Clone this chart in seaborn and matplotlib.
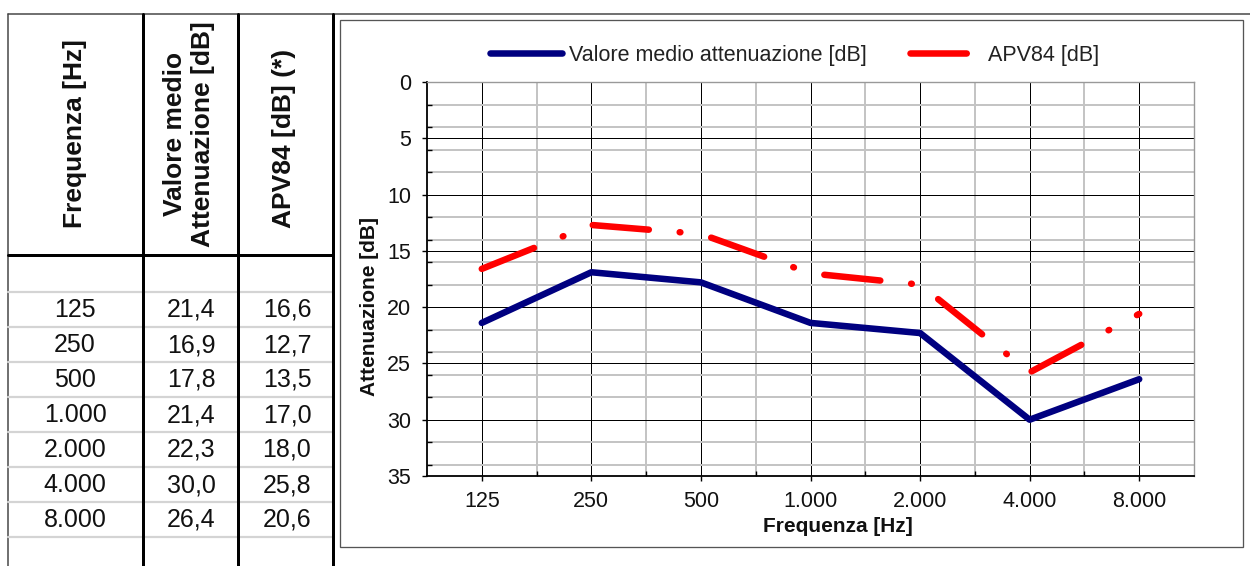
import numpy as np
import matplotlib
matplotlib.use("Agg")
import matplotlib.pyplot as plt
from matplotlib.patches import Rectangle
from matplotlib.ticker import MultipleLocator, FixedLocator
import seaborn as sns

freq_labels = ["125", "250", "500", "1.000", "2.000", "4.000", "8.000"]
valore_medio = [21.4, 16.9, 17.8, 21.4, 22.3, 30.0, 26.4]
apv84 = [16.6, 12.7, 13.5, 17.0, 18.0, 25.8, 20.6]
valore_txt = ["21,4", "16,9", "17,8", "21,4", "22,3", "30,0", "26,4"]
apv84_txt = ["16,6", "12,7", "13,5", "17,0", "18,0", "25,8", "20,6"]

sns.set_theme(style="white")
plt.rcParams["font.family"] = ["Liberation Sans", "DejaVu Sans"]
plt.rcParams["lines.scale_dashes"] = False

W, H = 1250, 566
fig = plt.figure(figsize=(W / 100, H / 100), dpi=100)

# Background axes in pixel coordinates for the table and the chart frame
bg = fig.add_axes([0, 0, 1, 1])
bg.set_xlim(0, W)
bg.set_ylim(H, 0)
bg.axis("off")

px = 0.72  # points per pixel at dpi 100

# table grid
bg.plot([8, W], [14, 14], color="#444444", lw=1.5 * px)
bg.plot([8, 8], [14, H], color="#444444", lw=1.5 * px)
for y in 292 + 35 * np.arange(8):
    bg.plot([8, 333], [y, y], color="#d4d4d4", lw=2.2 * px)
bg.plot([8, 333], [255, 255], color="black", lw=3 * px)
for x in [143, 238, 333]:
    bg.plot([x, x], [14, H], color="black", lw=3 * px)

# table header
bg.text(75, 134, "Frequenza [Hz]", rotation=90, ha="center", va="center",
        fontsize=19, fontweight="bold", color="#111111")
bg.text(189, 134, "Valore medio\nAttenuazione [dB]", rotation=90, ha="center",
        va="center", fontsize=19, fontweight="bold", color="#111111",
        linespacing=1.25, multialignment="center")
bg.text(284, 138, "APV84 [dB] (*)", rotation=90, ha="center", va="center",
        fontsize=19, fontweight="bold", color="#111111")

# table values
for i in range(len(freq_labels)):
    yc = 292 + 35 * i + 18
    bg.text(75, yc, freq_labels[i], ha="center", va="center", fontsize=18, color="#111111")
    bg.text(191, yc, valore_txt[i], ha="center", va="center", fontsize=18, color="#111111")
    bg.text(287, yc, apv84_txt[i], ha="center", va="center", fontsize=18, color="#111111")

# chart frame
bg.add_patch(Rectangle((340, 20), 903, 527, fill=False, ec="#555555", lw=1.3 * px))

# Chart
ax = fig.add_axes([427 / W, 1 - 476 / H, 767 / W, 394 / H])
pos = np.arange(len(freq_labels))

sns.lineplot(x=pos, y=valore_medio, ax=ax, color="#000080", linewidth=4.7,
             label="Valore medio attenuazione [dB]")
sns.lineplot(x=pos, y=apv84, ax=ax, color="#ff0000", linewidth=4.7,
             linestyle=(0, (40.5, 22.3, 0.5, 22.7)), label="APV84 [dB]")
for line in ax.get_lines():
    line.set_solid_capstyle("round")
    line.set_dash_capstyle("round")
    line.set_solid_joinstyle("round")

ax.set_xlim(-0.5, 6.5)
ax.set_ylim(35, 0)
ax.set_xticks(pos)
ax.set_xticklabels(freq_labels)
ax.xaxis.set_minor_locator(FixedLocator(pos[:-1] + 0.5))
ax.yaxis.set_major_locator(MultipleLocator(5))
ax.yaxis.set_minor_locator(MultipleLocator(2))

ax.set_axisbelow(True)
ax.grid(which="major", color="black", lw=1.0 * px)
ax.grid(which="minor", color="#c4c4c4", lw=2.0 * px)

ax.tick_params(axis="both", which="major", direction="out", length=5 * px,
               width=1, color="black", labelsize=15.5, labelcolor="#111111")
ax.tick_params(axis="y", which="major", pad=8, left=True)
ax.tick_params(axis="x", which="major", pad=7, bottom=True)
ax.tick_params(axis="both", which="minor", direction="in", length=5 * px,
               width=1, color="black", left=True, bottom=True)

for side in ["left", "bottom"]:
    ax.spines[side].set_color("black")
    ax.spines[side].set_linewidth(1.3)
for side in ["top", "right"]:
    ax.spines[side].set_color("#999999")
    ax.spines[side].set_linewidth(1.0)

ax.set_ylabel("Attenuazione [dB]", fontsize=15, fontweight="bold", color="#111111")
ax.yaxis.set_label_coords(-0.063, 0.43)
ax.set_xlabel("Frequenza [Hz]", fontsize=15, fontweight="bold", color="#111111")
ax.xaxis.set_label_coords(0.536, -0.105)

ax.legend(loc="center", bbox_to_anchor=(795 / W, 1 - 55 / H),
          bbox_transform=fig.transFigure, ncol=2, frameon=False, fontsize=15.5,
          handlelength=3.3, handletextpad=0.35, columnspacing=2.0,
          labelcolor="#222222")

fig.savefig("out.png", dpi=100)
